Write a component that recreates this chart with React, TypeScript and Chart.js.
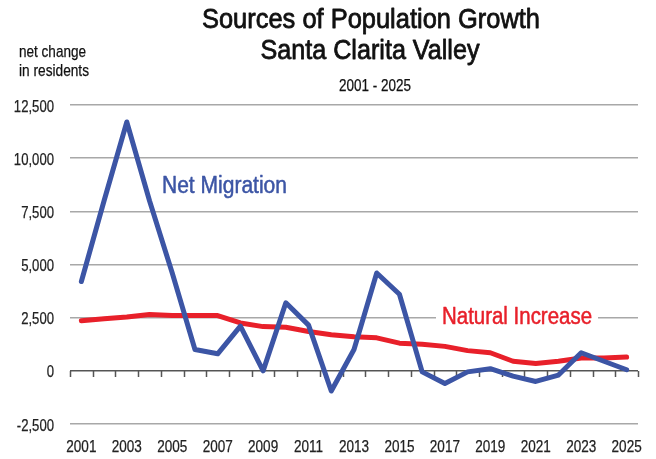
import React, { useEffect, useRef } from "react";
import { Chart, registerables } from "chart.js";

Chart.register(...registerables);

const years = [
  "2001", "2002", "2003", "2004", "2005", "2006", "2007", "2008", "2009", "2010",
  "2011", "2012", "2013", "2014", "2015", "2016", "2017", "2018", "2019", "2020",
  "2021", "2022", "2023", "2024", "2025",
];
const netMigration = [
  4200, 8000, 11700, 8000, 4600, 1000, 800, 2100, 0, 3200,
  2150, -950, 1000, 4600, 3600, -50, -600, -50, 100, -250,
  -500, -200, 850, 450, 50,
];
const naturalIncrease = [
  2350, 2450, 2530, 2650, 2600, 2600, 2600, 2250, 2080, 2050,
  1850, 1700, 1600, 1550, 1300, 1250, 1150, 950, 850, 450,
  350, 450, 600, 600, 650,
];
const yMin = -2500;
const yMax = 12500;
const yStep = 2500;

const FONT = "'Liberation Sans', Arial, sans-serif";
const BLUE = "#3c55a5";
const RED = "#e8202a";
const NARROW = 0.82;

function drawText(
  ctx: CanvasRenderingContext2D,
  text: string,
  x: number,
  y: number,
  size: number,
  align: "left" | "center" | "right",
  color: string,
  targetWidth?: number,
  weight = 0
) {
  ctx.save();
  ctx.font = `${size}px ${FONT}`;
  ctx.textBaseline = "alphabetic";
  ctx.textAlign = "left";
  const w = ctx.measureText(text).width;
  const sx = targetWidth ? targetWidth / w : NARROW;
  const dw = w * sx;
  let left = x;
  if (align === "center") left = x - dw / 2;
  if (align === "right") left = x - dw;
  ctx.translate(left, y);
  ctx.scale(sx, 1);
  ctx.fillStyle = color;
  ctx.fillText(text, 0, 0);
  if (weight > 0) {
    ctx.strokeStyle = color;
    ctx.lineWidth = weight;
    ctx.lineJoin = "round";
    ctx.strokeText(text, 0, 0);
  }
  ctx.restore();
}

const textPlugin = {
  id: "texts",
  beforeDatasetsDraw(chart: any) {
    const ctx = chart.ctx;
    const area = chart.chartArea;
    const y = chart.scales.y;
    const y0 = Math.round(y.getPixelForValue(0));
    const n = years.length;
    const w = (area.right - area.left) / n;
    ctx.save();
    ctx.strokeStyle = "#555";
    ctx.lineWidth = 1.5;
    ctx.beginPath();
    for (let i = 0; i <= n; i++) {
      const px = Math.round(area.left + i * w) + 0.5;
      ctx.moveTo(px, y0);
      ctx.lineTo(px, y0 + 6);
    }
    ctx.stroke();
    ctx.fillStyle = "#fff";
    ctx.fillRect(436, 303, 162, 26);
    ctx.restore();
    drawText(ctx, "Natural Increase", 442, 324, 23, "left", RED, 150, 0.5);
    drawText(ctx, "Net Migration", 162, 193, 23, "left", BLUE, 125, 0.5);
  },
  afterDraw(chart: any) {
    const ctx = chart.ctx;
    const xs = chart.scales.x;
    const ys = chart.scales.y;
    for (let i = 0; i < years.length; i += 2) {
      drawText(ctx, years[i], xs.getPixelForTick(i), 452, 16.5, "center", "#222", undefined, 0.25);
    }
    for (let v = yMin; v <= yMax; v += yStep) {
      drawText(ctx, v.toLocaleString("en-US"), 54, ys.getPixelForValue(v) + 6.5, 16, "right", "#222", undefined, 0.25);
    }
    drawText(ctx, "Sources of Population Growth", 371, 28, 28, "center", "#111", 338, 0.8);
    drawText(ctx, "Santa Clarita Valley", 370, 59, 28, "center", "#111", 219, 0.8);
    drawText(ctx, "2001 - 2025", 375, 91, 16.5, "center", "#111", 72, 0.25);
    drawText(ctx, "net change", 19, 57, 17, "left", "#111", 67, 0.25);
    drawText(ctx, "in residents", 19, 76, 17, "left", "#111", 70, 0.25);
  },
};

export default function App() {
  const ref = useRef<HTMLCanvasElement | null>(null);
  useEffect(() => {
    if (!ref.current) return;
    const chart = new Chart(ref.current, {
      type: "line",
      data: {
        labels: years,
        datasets: [
          {
            label: "Net Migration",
            data: netMigration,
            borderColor: BLUE,
            backgroundColor: BLUE,
            borderWidth: 5,
            pointRadius: 0,
            tension: 0,
            borderJoinStyle: "round",
            borderCapStyle: "round",
          },
          {
            label: "Natural Increase",
            data: naturalIncrease,
            borderColor: RED,
            backgroundColor: RED,
            borderWidth: 5,
            pointRadius: 0,
            tension: 0,
            borderJoinStyle: "round",
            borderCapStyle: "round",
          },
        ],
      },
      options: {
        animation: false,
        responsive: true,
        maintainAspectRatio: false,
        devicePixelRatio: 1,
        layout: { padding: { top: 105, right: 18, left: 0, bottom: 0 } },
        plugins: {
          legend: { display: false },
          tooltip: { enabled: false },
          title: { display: false },
        },
        scales: {
          x: {
            type: "category",
            offset: true,
            grid: { display: false },
            border: { display: false },
            ticks: { display: false, autoSkip: false },
            afterFit: (s: any) => {
              s.height = 35;
            },
          },
          y: {
            min: yMin,
            max: yMax,
            border: { display: false },
            grid: {
              drawTicks: false,
              color: (c: any) => (c.tick && c.tick.value === 0 ? "#555" : "#a8a8a8"),
              lineWidth: 1.5,
            },
            ticks: { display: false, stepSize: yStep },
            afterFit: (s: any) => {
              s.width = 70;
            },
          },
        },
      },
      plugins: [textPlugin],
    });
    return () => chart.destroy();
  }, []);
  return (
    <div style={{ position: "fixed", left: 0, top: 0, width: 656, height: 459, background: "#fff" }}>
      <canvas ref={ref} />
    </div>
  );
}
